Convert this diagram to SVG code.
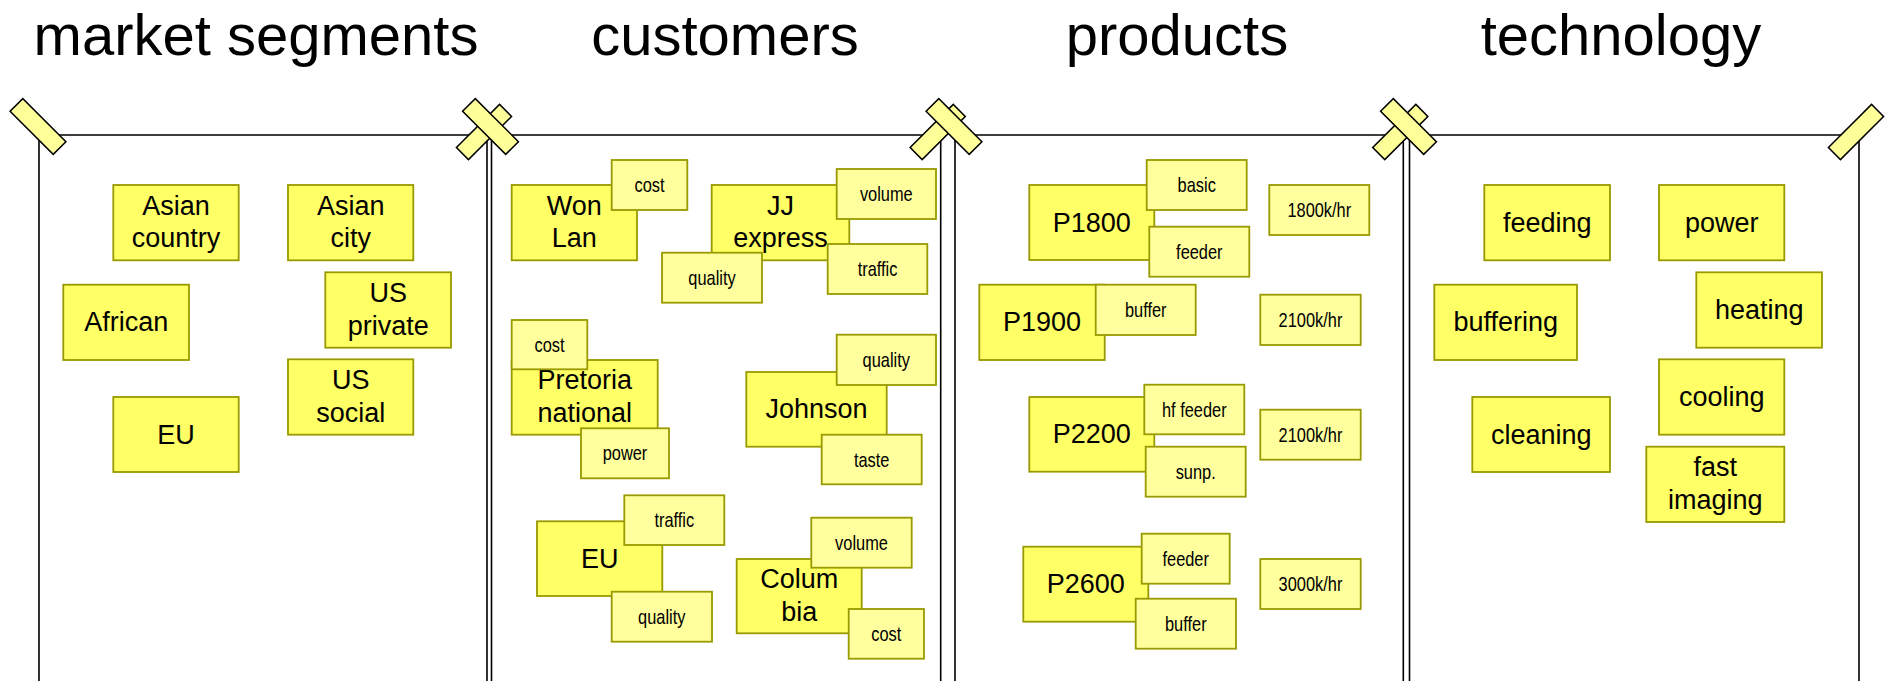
<svg xmlns="http://www.w3.org/2000/svg" width="1891" height="681" viewBox="0 0 1891 681">
  <style>
    .board { fill: #ffffff; stroke: #000000; stroke-width: 1.6; }
    .tape { fill: #ffff99; stroke: #000000; stroke-width: 1.5; }
    .big rect { fill: #ffff66; stroke: #999900; stroke-width: 1.8; }
    .small rect { fill: #ffff9e; stroke: #999900; stroke-width: 1.8; }
    .big text { font-family: "Liberation Sans", Arial, sans-serif; font-size: 27px; fill: #000000; text-anchor: middle; }
    /* small notes use a condensed face: regular sans squeezed horizontally */
    .small text { font-family: "Liberation Sans", Arial, sans-serif; font-size: 20px; fill: #000000; text-anchor: middle; }
    .title { font-family: "Liberation Sans", Arial, sans-serif; font-size: 58px; fill: #000000; text-anchor: middle; }
  </style>

  <rect width="1891" height="681" fill="#ffffff"/>

  <!-- column headings -->
  <g id="titles">
    <text class="title" x="256" y="55">market segments</text>
    <text class="title" x="725" y="55">customers</text>
    <text class="title" x="1177" y="55">products</text>
    <text class="title" x="1621" y="55">technology</text>
  </g>

  <!-- pinned boards, open at the bottom -->
  <g id="boards">
    <path class="board" d="M39,690 V135 H487 V690"/>
    <path class="board" d="M491.5,690 V135 H940.7 V690"/>
    <path class="board" d="M955,690 V135 H1403.3 V690"/>
    <path class="board" d="M1409.5,690 V135 H1859 V690"/>
  </g>

  <!-- tape strips holding the board corners -->
  <g id="tapes">
    <rect class="tape" x="-30.5" y="-8.5" width="61" height="17" transform="translate(484,132) rotate(-45)"/>
    <rect class="tape" x="-30.5" y="-8.5" width="61" height="17" transform="translate(937.7,132) rotate(-45)"/>
    <rect class="tape" x="-30.5" y="-8.5" width="61" height="17" transform="translate(1400.3,132) rotate(-45)"/>
    <rect class="tape" x="-30.5" y="-8.5" width="61" height="17" transform="translate(1856,132) rotate(-45)"/>
    <rect class="tape" x="-30.5" y="-9" width="61" height="18" transform="translate(38,126.5) rotate(45)"/>
    <rect class="tape" x="-30.5" y="-9" width="61" height="18" transform="translate(490.5,126.5) rotate(45)"/>
    <rect class="tape" x="-30.5" y="-9" width="61" height="18" transform="translate(954,126.5) rotate(45)"/>
    <rect class="tape" x="-30.5" y="-9" width="61" height="18" transform="translate(1408.5,126.5) rotate(45)"/>
  </g>

  <!-- market segments -->
  <g id="seg-asian-country" class="big"><rect x="113.3" y="185" width="125.4" height="75.3"/><text x="176" y="214.7">Asian</text><text x="176" y="247.2">country</text></g>
  <g id="seg-asian-city" class="big"><rect x="288" y="185" width="125.3" height="75.3"/><text x="350.7" y="214.7">Asian</text><text x="350.7" y="247.2">city</text></g>
  <g id="seg-african" class="big"><rect x="63.3" y="284.7" width="125.7" height="75.3"/><text x="126.2" y="331.3">African</text></g>
  <g id="seg-us-private" class="big"><rect x="325.3" y="272.3" width="125.7" height="75.4"/><text x="388.2" y="302">US</text><text x="388.2" y="334.5">private</text></g>
  <g id="seg-us-social" class="big"><rect x="288" y="359.3" width="125.3" height="75.4"/><text x="350.7" y="389">US</text><text x="350.7" y="421.5">social</text></g>
  <g id="seg-eu" class="big"><rect x="113.3" y="397" width="125.4" height="75"/><text x="176" y="443.5">EU</text></g>

  <!-- customers -->
  <g id="cus-won-lan" class="big"><rect x="511.7" y="185" width="125.3" height="75.3"/><text x="574.3" y="214.7">Won</text><text x="574.3" y="247.2">Lan</text></g>
  <g id="cus-won-lan-cost" class="small"><rect x="611.7" y="160" width="75.6" height="50"/><text transform="matrix(0.82 0 0 1 649.5 192)">cost</text></g>

  <g id="cus-jj-express" class="big"><rect x="711.7" y="185" width="137.6" height="75.3"/><text x="780.5" y="214.7">JJ</text><text x="780.5" y="247.2">express</text></g>
  <g id="cus-jj-volume" class="small"><rect x="836.7" y="169" width="99.3" height="50"/><text transform="matrix(0.82 0 0 1 886.3 201)">volume</text></g>
  <g id="cus-jj-quality" class="small"><rect x="662" y="252.7" width="100" height="50"/><text transform="matrix(0.82 0 0 1 712 284.7)">quality</text></g>
  <g id="cus-jj-traffic" class="small"><rect x="827.7" y="244" width="99.6" height="50"/><text transform="matrix(0.82 0 0 1 877.5 276)">traffic</text></g>

  <g id="cus-pretoria" class="big"><rect x="511.7" y="360" width="146" height="74.7"/><text x="584.7" y="389.3">Pretoria</text><text x="584.7" y="421.8">national</text></g>
  <g id="cus-pretoria-cost" class="small"><rect x="511.7" y="320" width="75.6" height="49.3"/><text transform="matrix(0.82 0 0 1 549.5 351.7)">cost</text></g>
  <g id="cus-pretoria-power" class="small"><rect x="581" y="428.3" width="88" height="50"/><text transform="matrix(0.82 0 0 1 625 460.3)">power</text></g>

  <g id="cus-johnson" class="big"><rect x="746.3" y="372" width="140.4" height="74.7"/><text x="816.5" y="418.3">Johnson</text></g>
  <g id="cus-johnson-quality" class="small"><rect x="836.7" y="334.7" width="99.3" height="50.3"/><text transform="matrix(0.82 0 0 1 886.3 366.8)">quality</text></g>
  <g id="cus-johnson-taste" class="small"><rect x="821.7" y="434.7" width="100" height="49.6"/><text transform="matrix(0.82 0 0 1 871.7 466.5)">taste</text></g>

  <g id="cus-eu" class="big"><rect x="537" y="521.3" width="125.3" height="74.7"/><text x="599.7" y="567.7">EU</text></g>
  <g id="cus-eu-traffic" class="small"><rect x="624.3" y="495.3" width="100" height="49.7"/><text transform="matrix(0.82 0 0 1 674.3 527.2)">traffic</text></g>
  <g id="cus-eu-quality" class="small"><rect x="611.7" y="591.7" width="100.3" height="50"/><text transform="matrix(0.82 0 0 1 661.8 623.7)">quality</text></g>

  <g id="cus-columbia" class="big"><rect x="736.7" y="559" width="125" height="74.3"/><text x="799.2" y="588.2">Colum</text><text x="799.2" y="620.7">bia</text></g>
  <g id="cus-columbia-volume" class="small"><rect x="811.3" y="517.7" width="100.4" height="50"/><text transform="matrix(0.82 0 0 1 861.5 549.7)">volume</text></g>
  <g id="cus-columbia-cost" class="small"><rect x="848.7" y="609" width="75.3" height="49.7"/><text transform="matrix(0.82 0 0 1 886.3 640.8)">cost</text></g>

  <!-- products -->
  <g id="prd-p1800" class="big"><rect x="1029.3" y="185" width="125" height="75"/><text x="1091.8" y="231.5">P1800</text></g>
  <g id="prd-p1800-basic" class="small"><rect x="1146.7" y="160" width="100" height="50"/><text transform="matrix(0.82 0 0 1 1196.7 192)">basic</text></g>
  <g id="prd-p1800-feeder" class="small"><rect x="1149.3" y="226.7" width="100" height="50"/><text transform="matrix(0.82 0 0 1 1199.3 258.7)">feeder</text></g>
  <g id="prd-p1800-rate" class="small"><rect x="1269.3" y="185" width="100" height="50"/><text transform="matrix(0.82 0 0 1 1319.3 217)">1800k/hr</text></g>

  <g id="prd-p1900" class="big"><rect x="979.3" y="284.7" width="125.4" height="75.3"/><text x="1042" y="331.3">P1900</text></g>
  <g id="prd-p1900-buffer" class="small"><rect x="1095.7" y="284.7" width="100" height="50.3"/><text transform="matrix(0.82 0 0 1 1145.7 316.8)">buffer</text></g>
  <g id="prd-p1900-rate" class="small"><rect x="1260.3" y="294.7" width="100.4" height="50.3"/><text transform="matrix(0.82 0 0 1 1310.5 326.8)">2100k/hr</text></g>

  <g id="prd-p2200" class="big"><rect x="1029.3" y="397" width="125" height="74.7"/><text x="1091.8" y="443.3">P2200</text></g>
  <g id="prd-p2200-hf-feeder" class="small"><rect x="1144.3" y="384.7" width="100" height="49.6"/><text transform="matrix(0.82 0 0 1 1194.3 416.5)">hf feeder</text></g>
  <g id="prd-p2200-sunp" class="small"><rect x="1145.7" y="446.7" width="100" height="50"/><text transform="matrix(0.82 0 0 1 1195.7 478.7)">sunp.</text></g>
  <g id="prd-p2200-rate" class="small"><rect x="1260.3" y="409.7" width="100.4" height="50"/><text transform="matrix(0.82 0 0 1 1310.5 441.7)">2100k/hr</text></g>

  <g id="prd-p2600" class="big"><rect x="1023.3" y="546.7" width="125" height="75"/><text x="1085.8" y="593.2">P2600</text></g>
  <g id="prd-p2600-feeder" class="small"><rect x="1141.7" y="533.7" width="88" height="50"/><text transform="matrix(0.82 0 0 1 1185.7 565.7)">feeder</text></g>
  <g id="prd-p2600-buffer" class="small"><rect x="1135.7" y="598.7" width="100.3" height="50"/><text transform="matrix(0.82 0 0 1 1185.8 630.7)">buffer</text></g>
  <g id="prd-p2600-rate" class="small"><rect x="1260.3" y="559" width="100.4" height="50"/><text transform="matrix(0.82 0 0 1 1310.5 591)">3000k/hr</text></g>

  <!-- technology -->
  <g id="tec-feeding" class="big"><rect x="1484.3" y="185" width="125.7" height="75.3"/><text x="1547.2" y="231.7">feeding</text></g>
  <g id="tec-power" class="big"><rect x="1659" y="185" width="125.3" height="75.3"/><text x="1721.7" y="231.7">power</text></g>
  <g id="tec-buffering" class="big"><rect x="1434.3" y="284.7" width="142.7" height="75.3"/><text x="1505.7" y="331.3">buffering</text></g>
  <g id="tec-heating" class="big"><rect x="1696.3" y="272.3" width="125.7" height="75.4"/><text x="1759.2" y="319">heating</text></g>
  <g id="tec-cleaning" class="big"><rect x="1472.3" y="397" width="137.7" height="75"/><text x="1541.2" y="443.5">cleaning</text></g>
  <g id="tec-cooling" class="big"><rect x="1659" y="359.3" width="125.3" height="75.4"/><text x="1721.7" y="406">cooling</text></g>
  <g id="tec-fast-imaging" class="big"><rect x="1646.3" y="446.7" width="138" height="75.3"/><text x="1715.3" y="476.3">fast</text><text x="1715.3" y="508.8">imaging</text></g>
</svg>
